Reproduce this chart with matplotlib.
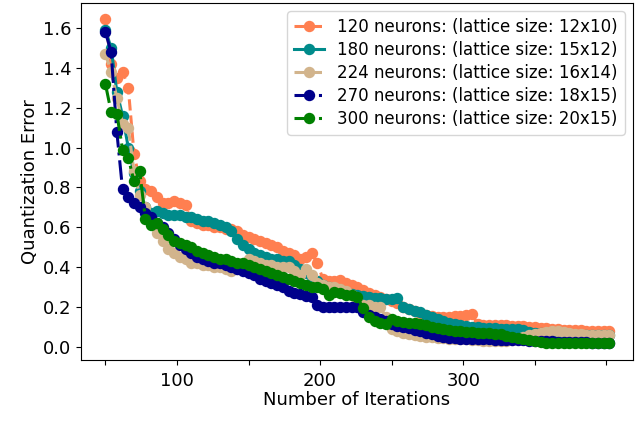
import numpy as np
import matplotlib
matplotlib.use("Agg")
import matplotlib.pyplot as plt

iterations = np.arange(50, 403, 4)

err_120 = [1.645, 1.42, 1.35, 1.38, 1.30, 0.97, 0.83, 0.79, 0.78, 0.75,
           0.72, 0.72, 0.73, 0.72, 0.71, 0.63, 0.62, 0.61, 0.61, 0.60,
           0.60, 0.59, 0.59, 0.58, 0.56, 0.55, 0.54, 0.53, 0.52, 0.51,
           0.50, 0.48, 0.47, 0.46, 0.44, 0.45, 0.47, 0.42, 0.34, 0.33,
           0.33, 0.335, 0.32, 0.31, 0.30, 0.285, 0.27, 0.26, 0.25, 0.24,
           0.23, 0.22, 0.20, 0.19, 0.18, 0.17, 0.16, 0.155, 0.15, 0.15,
           0.15, 0.155, 0.155, 0.16, 0.165, 0.115, 0.11, 0.11, 0.11, 0.11,
           0.11, 0.105, 0.105, 0.105, 0.10, 0.10, 0.095, 0.095, 0.09, 0.09,
           0.085, 0.085, 0.085, 0.085, 0.08, 0.08, 0.08, 0.08, 0.08]

err_180 = [1.59, 1.50, 1.28, 1.16, 1.00, 0.87, 0.78, 0.70, 0.67, 0.68,
           0.67, 0.66, 0.66, 0.66, 0.65, 0.65, 0.64, 0.63, 0.63, 0.62,
           0.61, 0.60, 0.58, 0.54, 0.51, 0.49, 0.47, 0.46, 0.45, 0.44,
           0.44, 0.43, 0.43, 0.41, 0.39, 0.37, 0.35, 0.33, 0.31, 0.30,
           0.29, 0.28, 0.27, 0.265, 0.26, 0.255, 0.25, 0.245, 0.245, 0.24,
           0.24, 0.245, 0.20, 0.19, 0.18, 0.175, 0.16, 0.15, 0.14, 0.13,
           0.12, 0.115, 0.11, 0.105, 0.10, 0.10, 0.095, 0.095, 0.095, 0.09,
           0.09, 0.09, 0.09, 0.085, 0.075, 0.07, 0.07, 0.07, 0.065, 0.065,
           0.065, 0.065, 0.06, 0.06, 0.06, 0.06, 0.06, 0.06, 0.06]

err_224 = [1.47, 1.38, 1.25, 1.12, 1.10, 0.88, 0.76, 0.70, 0.64, 0.57,
           0.53, 0.49, 0.47, 0.45, 0.44, 0.42, 0.42, 0.41, 0.41, 0.40,
           0.40, 0.39, 0.38, 0.39, 0.42, 0.44, 0.43, 0.42, 0.41, 0.41,
           0.40, 0.40, 0.40, 0.38, 0.36, 0.39, 0.36, 0.32, 0.31, 0.30,
           0.30, 0.29, 0.28, 0.26, 0.23, 0.21, 0.21, 0.20, 0.20, 0.15,
           0.09, 0.08, 0.07, 0.065, 0.06, 0.055, 0.05, 0.05, 0.045, 0.045,
           0.04, 0.04, 0.04, 0.04, 0.035, 0.035, 0.03, 0.03, 0.03, 0.03,
           0.03, 0.035, 0.04, 0.05, 0.06, 0.065, 0.07, 0.075, 0.08, 0.08,
           0.075, 0.07, 0.065, 0.065, 0.06, 0.06, 0.06, 0.06, 0.06]

err_270 = [1.58, 1.48, 1.08, 0.79, 0.75, 0.72, 0.70, 0.67, 0.65, 0.62,
           0.60, 0.57, 0.54, 0.51, 0.49, 0.47, 0.45, 0.44, 0.43, 0.42,
           0.42, 0.41, 0.40, 0.39, 0.38, 0.37, 0.36, 0.34, 0.33, 0.32,
           0.31, 0.30, 0.28, 0.27, 0.265, 0.255, 0.25, 0.21, 0.20, 0.20,
           0.20, 0.20, 0.20, 0.20, 0.20, 0.175, 0.16, 0.15, 0.14, 0.13,
           0.115, 0.105, 0.10, 0.095, 0.085, 0.08, 0.07, 0.065, 0.055, 0.05,
           0.045, 0.045, 0.04, 0.04, 0.04, 0.04, 0.04, 0.04, 0.035, 0.035,
           0.035, 0.035, 0.035, 0.035, 0.03, 0.03, 0.03, 0.03, 0.03, 0.025,
           0.025, 0.025, 0.025, 0.025, 0.025, 0.02, 0.02, 0.02, 0.02]

err_300 = [1.32, 1.18, 1.17, 0.99, 0.95, 0.83, 0.88, 0.64, 0.61, 0.62,
           0.59, 0.56, 0.53, 0.52, 0.51, 0.50, 0.48, 0.47, 0.46, 0.45,
           0.44, 0.44, 0.43, 0.42, 0.42, 0.41, 0.40, 0.39, 0.38, 0.37,
           0.36, 0.35, 0.34, 0.33, 0.32, 0.31, 0.30, 0.30, 0.29, 0.26,
           0.275, 0.27, 0.26, 0.26, 0.25, 0.195, 0.15, 0.13, 0.12, 0.115,
           0.14, 0.13, 0.125, 0.12, 0.12, 0.115, 0.11, 0.10, 0.095, 0.09,
           0.085, 0.08, 0.08, 0.075, 0.075, 0.07, 0.07, 0.07, 0.065, 0.065,
           0.055, 0.05, 0.045, 0.04, 0.035, 0.03, 0.025, 0.02, 0.02, 0.02,
           0.02, 0.02, 0.02, 0.02, 0.02, 0.02, 0.02, 0.02, 0.02]

labels = ["120 neurons: (lattice size: 12x10)",
          "180 neurons: (lattice size: 15x12)",
          "224 neurons: (lattice size: 16x14)",
          "270 neurons: (lattice size: 18x15)",
          "300 neurons: (lattice size: 20x15)"]
series = [err_120, err_180, err_224, err_270, err_300]
colors = ["#FF7F50", "#008B8B", "#D2B48C", "#00008B", "#008000"]
styles = ["--", "-", "--", "-.", "-."]

xtick_pos = [50, 100, 150, 200, 250, 300, 350, 400]
xtick_lab = ["", "100", "", "200", "", "300", "", ""]
ytick_pos = [0.0, 0.2, 0.4, 0.6, 0.8, 1.0, 1.2, 1.4, 1.6]

fig = plt.figure(figsize=(6.4, 4.22), dpi=100)
ax = fig.add_axes([0.1266, 0.147, 0.8624, 0.846])

for vals, lab, col, ls in zip(series, labels, colors, styles):
    ax.plot(iterations, vals, linestyle=ls, color=col, marker="o",
            markersize=7.2, linewidth=2.2, label=lab)

ax.set_xlim(33, 418.5)
ax.set_ylim(-0.065, 1.725)
ax.set_xticks(xtick_pos)
ax.set_xticklabels(xtick_lab)
ax.set_yticks(ytick_pos)
ax.set_yticklabels([f"{v:.1f}" for v in ytick_pos])
ax.tick_params(labelsize=13)
ax.tick_params(axis="x", pad=5)
ax.set_xlabel("Number of Iterations", fontsize=13, labelpad=1)
ax.set_ylabel("Quantization Error", fontsize=13, labelpad=3)
ax.legend(loc="upper right", fontsize=12, labelspacing=0.3,
          handlelength=1.8)

fig.savefig("out.png", dpi=100)
